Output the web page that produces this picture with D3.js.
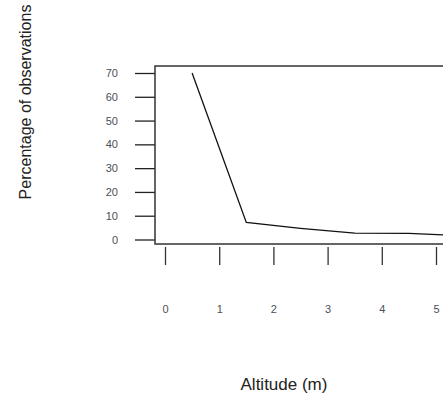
<!DOCTYPE html>
<html>
<head>
<meta charset="utf-8">
<script src="https://cdn.jsdelivr.net/npm/d3@7"></script>
<style>
  body { margin: 0; background: #fff; }
  svg { display: block; }
</style>
</head>
<body>
<div id="container"></div>
<script>
// altitude midpoints (m) and percentage of observations
const altitudes = [0.5, 1.5, 2.5, 3.5, 4.5, 5.5];
const percents = [70, 7.2, 4.7, 2.7, 2.6, 1.6];
const xTicks = [0, 1, 2, 3, 4, 5];
const yTicks = [0, 10, 20, 30, 40, 50, 60, 70];

const width = 443, height = 400;
const box = { left: 155, top: 66, right: 470, bottom: 244 };

let x = d3.scaleLinear().domain([0, 5]).range([165, 436]);
let y = d3.scaleLinear().domain([0, 70]).range([239.5, 73]);

let svg = d3.select("#container").append("svg")
    .attr("width", width)
    .attr("height", height)
    .style("font-family", "'Liberation Sans', Arial, sans-serif");

// y axis, ticks hanging left of the box
let yAxis = svg.append("g")
    .attr("transform", `translate(${box.left},0)`)
    .call(d3.axisLeft(y).tickValues(yTicks).tickFormat(d3.format("d"))
        .tickSize(20).tickPadding(17));
yAxis.select(".domain").remove();
yAxis.selectAll("line").attr("stroke", "#222").attr("stroke-width", 1.3);
yAxis.selectAll("text").attr("fill", "#4a4f58").style("font-size", "11px");

// x axis, detached below the box
let xAxis = svg.append("g")
    .attr("transform", `translate(0,247)`)
    .call(d3.axisBottom(x).tickValues(xTicks).tickFormat(d3.format("d"))
        .tickSize(18).tickPadding(40));
xAxis.select(".domain").remove();
xAxis.selectAll("line").attr("stroke", "#333").attr("stroke-width", 1.3);
xAxis.selectAll("text").attr("fill", "#4a4f58").style("font-size", "11px");

// plot frame (runs past the right edge)
svg.append("rect")
    .attr("x", box.left)
    .attr("y", box.top)
    .attr("width", box.right - box.left)
    .attr("height", box.bottom - box.top)
    .attr("fill", "none")
    .attr("stroke", "#333")
    .attr("stroke-width", 1.5);

const data = altitudes.map((a, i) => ({ x: a, y: percents[i] }));
let line = d3.line()
    .x(d => x(d.x))
    .y(d => y(d.y));

svg.append("path")
    .datum(data)
    .attr("fill", "none")
    .attr("stroke", "#111")
    .attr("stroke-width", 1.3)
    .attr("d", line);

svg.append("text")
    .attr("x", 284)
    .attr("y", 390)
    .attr("text-anchor", "middle")
    .attr("fill", "#222")
    .style("font-size", "17px")
    .text("Altitude (m)");

svg.append("text")
    .attr("transform", "translate(31,102) rotate(-90)")
    .attr("text-anchor", "middle")
    .attr("fill", "#222")
    .style("font-size", "16px")
    .text("Percentage of observations");
</script>
</body>
</html>
